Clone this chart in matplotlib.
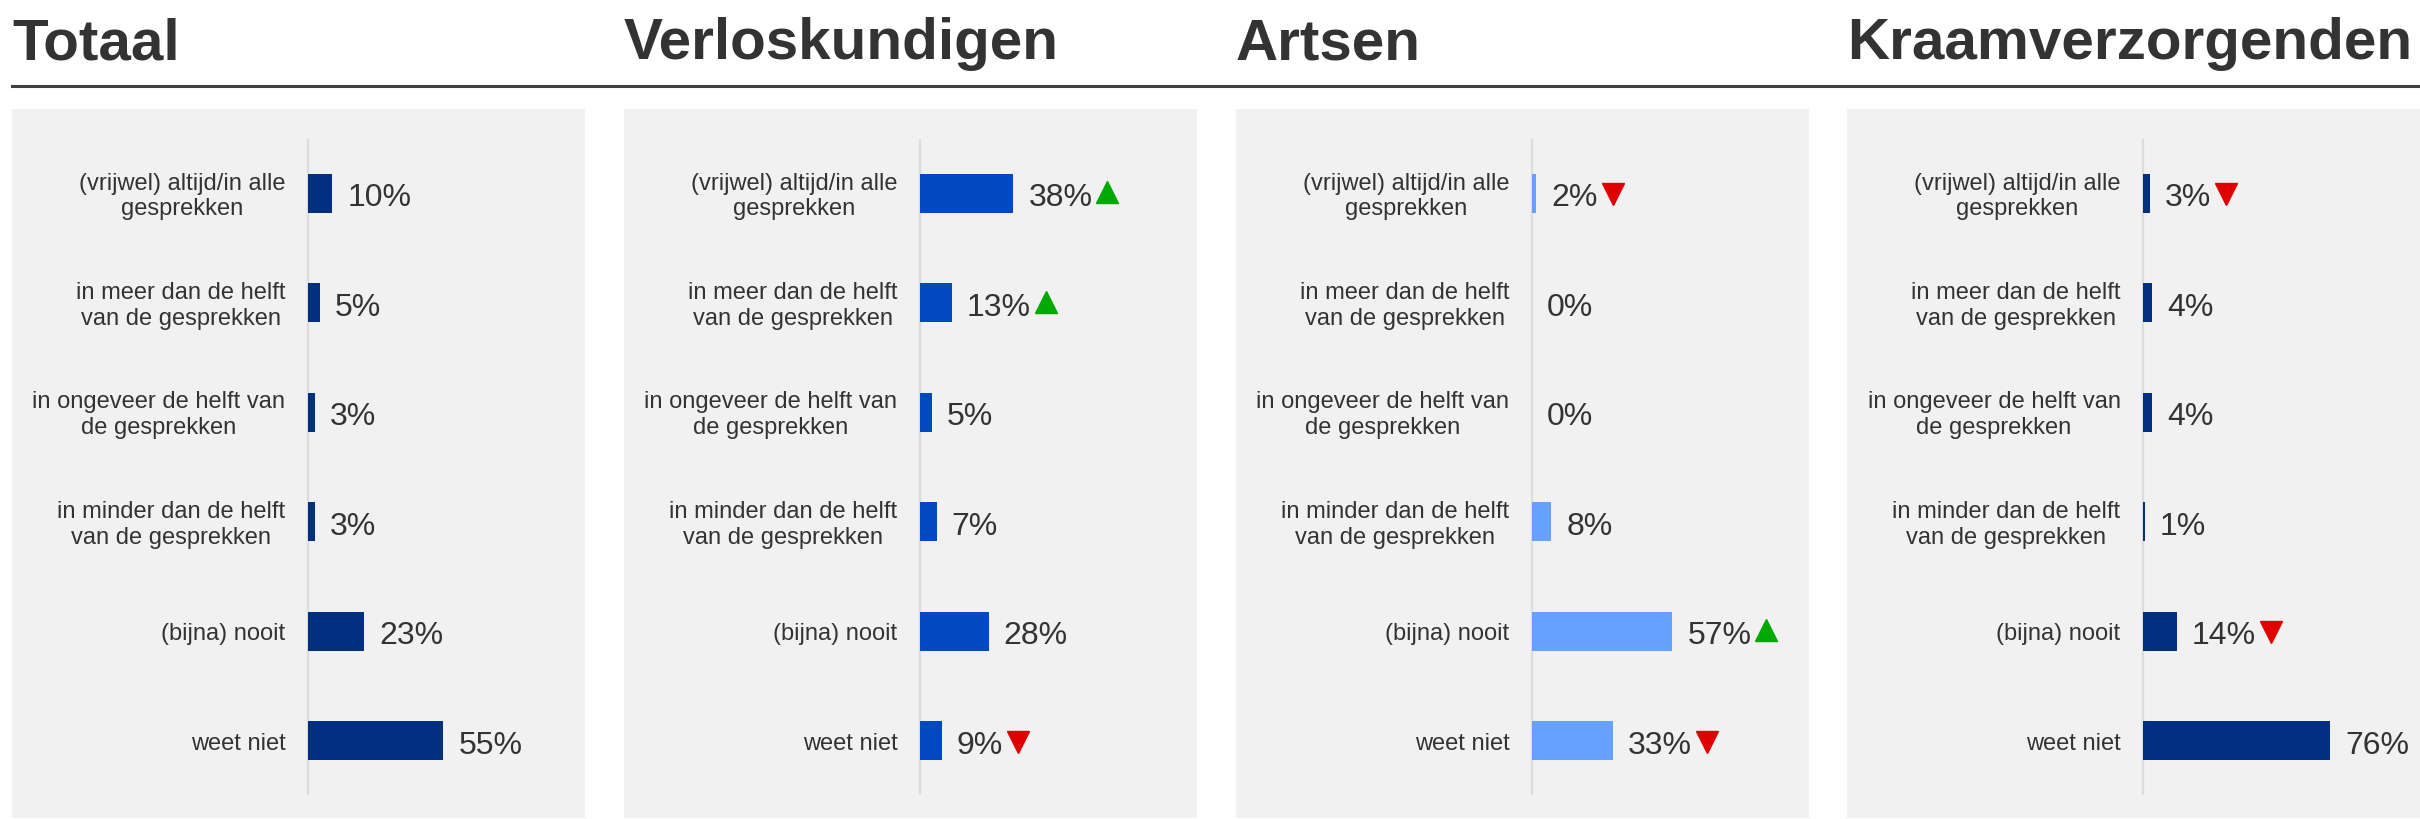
import matplotlib
matplotlib.use("Agg")
import matplotlib.pyplot as plt
from matplotlib.lines import Line2D

plt.rcParams['font.family'] = ['Liberation Sans', 'DejaVu Sans']

categories = [
    "(vrijwel) altijd/in alle\ngesprekken",
    "in meer dan de helft\nvan de gesprekken",
    "in ongeveer de helft van\nde gesprekken",
    "in minder dan de helft\nvan de gesprekken",
    "(bijna) nooit",
    "weet niet",
]
titles = ["Totaal", "Verloskundigen", "Artsen", "Kraamverzorgenden"]
totaal = [10, 5, 3, 3, 23, 55]
verloskundigen = [38, 13, 5, 7, 28, 9]
artsen = [2, 0, 0, 8, 57, 33]
kraamverzorgenden = [3, 4, 4, 1, 14, 76]
# significance markers: 1 = up, -1 = down, 0 = none
sig_totaal = [0, 0, 0, 0, 0, 0]
sig_verloskundigen = [1, 1, 0, 0, 0, -1]
sig_artsen = [-1, 0, 0, 0, 1, -1]
sig_kraamverzorgenden = [-1, 0, 0, 0, -1, 0]

series = [totaal, verloskundigen, artsen, kraamverzorgenden]
sigs = [sig_totaal, sig_verloskundigen, sig_artsen, sig_kraamverzorgenden]
colors = ["#00307f", "#0049bf", "#66a1ff", "#00307f"]

W, H = 2420, 819
fig = plt.figure(figsize=(W / 100, H / 100), dpi=100)
r = fig.canvas.get_renderer()

panel_left = [12, 624, 1236, 1847]
panel_w = 573
panel_top = 109
panel_bot = 818
zero_off = 295.5        # px from panel left to zero line
px_per_pct = 2.47
row0_y = 193.5
row_step = 109.4

text_col = "#333333"
label_fs = 17
label_gap = 22          # px between label right edge and zero line
label_lh = 25.7         # px between baselines
label_base = 9          # px baseline below row centre (block middle)


def text_width(s, fs):
    t = fig.text(0, 0, s, fontsize=fs)
    w = t.get_window_extent(r).width
    t.remove()
    return w


axes = []
for i in range(4):
    ax = fig.add_axes([panel_left[i] / W, (H - panel_bot) / H,
                       panel_w / W, (panel_bot - panel_top) / H])
    ax.set_facecolor("#f1f1f1")
    for s in ax.spines.values():
        s.set_visible(False)
    ax.set_xticks([])
    ax.set_yticks([])
    xl = -zero_off / px_per_pct
    xr = (panel_w - zero_off) / px_per_pct
    ax.set_xlim(xl, xr)
    ytop = -(row0_y - panel_top) / row_step
    ybot = 5 + (panel_bot - (row0_y + 5 * row_step)) / row_step
    ax.set_ylim(ybot, ytop)
    ax.vlines(0, -0.5, 5.5, color="#dcdcdc", linewidth=1.6, zorder=1)
    ypos = list(range(len(categories)))
    ax.barh(ypos, series[i], height=0.357, color=colors[i], zorder=2)
    for j, cat in enumerate(categories):
        lines = cat.split("\n")
        widths = [text_width(ln, label_fs) for ln in lines]
        maxw = max(widths)
        n = len(lines)
        for k, ln in enumerate(lines):
            dy = label_base + (k - (n - 1) / 2) * label_lh
            ax.annotate(ln, xy=(0, j), xytext=(-label_gap - maxw / 2, -dy),
                        textcoords="offset pixels", ha="center", va="baseline",
                        fontsize=label_fs, color=text_col)
    axes.append(ax)
    fig.text(panel_left[i] / W, 1 - 59 / H, titles[i], fontsize=42,
             fontweight="bold", color=text_col, ha="left", va="baseline")

fig.add_artist(Line2D([12 / W, 1.0], [1 - 86 / H, 1 - 86 / H],
                      color="#404040", linewidth=2.2))

vtexts = []
for i, ax in enumerate(axes):
    for j, v in enumerate(series[i]):
        t = ax.annotate(f"{v}%", xy=(v, j), xytext=(15, -13),
                        textcoords="offset pixels", ha="left", va="baseline",
                        fontsize=23, color=text_col)
        vtexts.append((ax, j, t, sigs[i][j]))

fig.canvas.draw()
for ax, j, t, s in vtexts:
    if s == 0:
        continue
    bb = t.get_window_extent(r)
    xd = bb.x1 + 4 + 11
    yd = ax.transData.transform((0, j))[1] + (1 if s > 0 else -1)
    xdata, ydata = ax.transData.inverted().transform((xd, yd))
    ax.plot([xdata], [ydata], marker="^" if s > 0 else "v",
            color="#00aa00" if s > 0 else "#e00000", markersize=16,
            linestyle="none", zorder=3, clip_on=False)

fig.savefig("out.png", dpi=100, facecolor="white")
